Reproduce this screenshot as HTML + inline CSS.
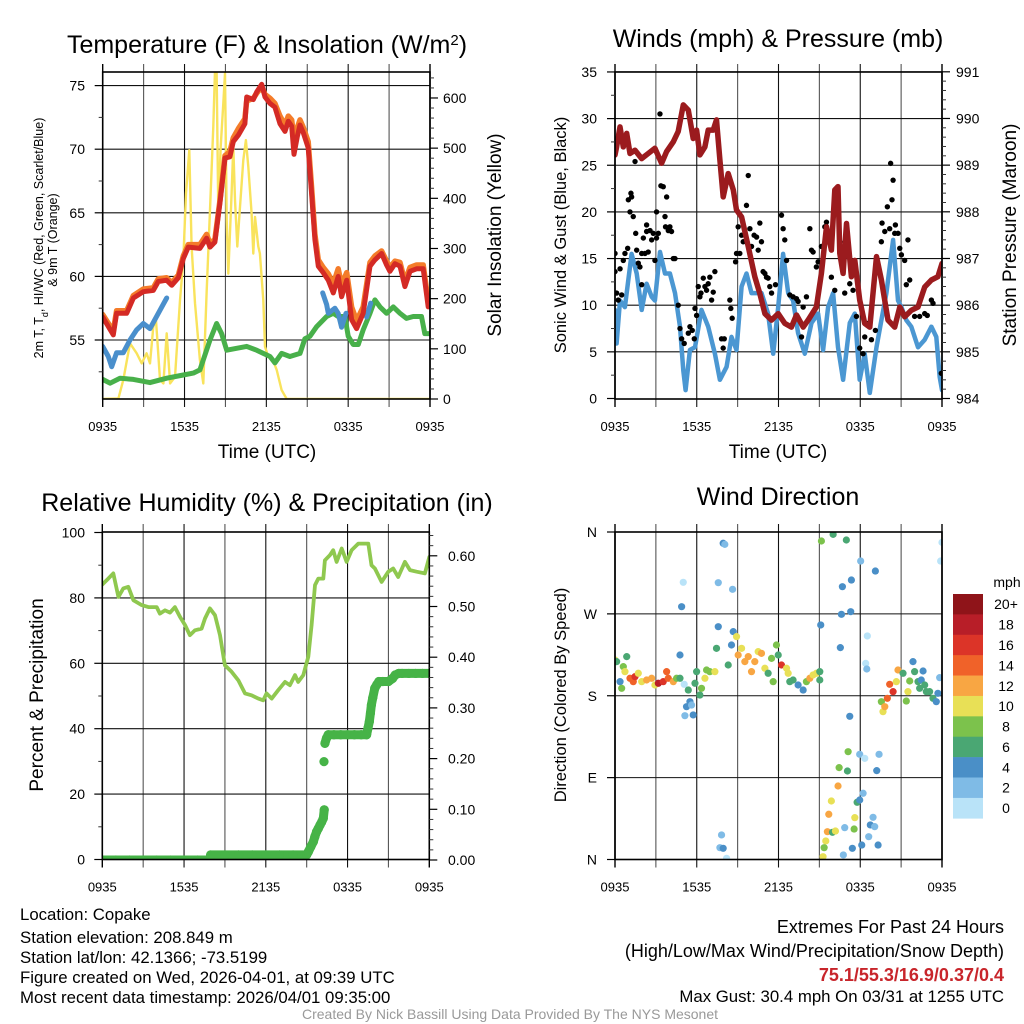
<!DOCTYPE html>
<html><head><meta charset="utf-8">
<style>
html,body{margin:0;padding:0;background:#fff;}
svg{display:block;font-family:"Liberation Sans",Arial,sans-serif;}
</style></head>
<body>
<svg id="fig" width="1024" height="1024" viewBox="0 0 1024 1024" xmlns="http://www.w3.org/2000/svg">
<defs>
<clipPath id="c1"><rect x="102.7" y="72" width="327.3" height="327"/></clipPath>
<clipPath id="c2"><rect x="615" y="72" width="327" height="327"/></clipPath>
<clipPath id="c3"><rect x="102.3" y="532" width="327" height="327.5"/></clipPath>
<clipPath id="c4"><rect x="615" y="532" width="327" height="327.5"/></clipPath>
</defs>
<text x="267" y="53" font-size="25" text-anchor="middle">Temperature (F) &amp; Insolation (W/m<tspan baseline-shift="super" font-size="15">2</tspan>)</text>
<text x="778" y="47" font-size="25" text-anchor="middle">Winds (mph) &amp; Pressure (mb)</text>
<text x="267" y="511" font-size="25" text-anchor="middle">Relative Humidity (%) &amp; Precipitation (in)</text>
<text x="778" y="505" font-size="25" text-anchor="middle">Wind Direction</text>

<text transform="translate(43,238) rotate(-90)" font-size="12.5" text-anchor="middle">2m T, T<tspan baseline-shift="sub" font-size="9">d</tspan>, HI/WC (Red, Green, Scarlet/Blue)</text>
<text transform="translate(57,240) rotate(-90)" font-size="12.5" text-anchor="middle">&amp; 9m T (Orange)</text>
<text transform="translate(501,235) rotate(-90)" font-size="19" text-anchor="middle">Solar Insolation (Yellow)</text>
<text transform="translate(566,235) rotate(-90)" font-size="16.5" text-anchor="middle">Sonic Wind &amp; Gust (Blue, Black)</text>
<text transform="translate(1016,235) rotate(-90)" font-size="19" text-anchor="middle">Station Pressure (Maroon)</text>
<text transform="translate(43,695) rotate(-90)" font-size="19" text-anchor="middle">Percent &amp; Precipitation</text>
<text transform="translate(566,695) rotate(-90)" font-size="16.5" text-anchor="middle">Direction (Colored By Speed)</text>
<text x="267" y="458" font-size="19" text-anchor="middle">Time (UTC)</text>
<text x="778" y="458" font-size="19" text-anchor="middle">Time (UTC)</text>

<g font-size="16.8">
<text x="20" y="920">Location: Copake</text>
<text x="20" y="943">Station elevation: 208.849 m</text>
<text x="20" y="963">Station lat/lon: 42.1366; -73.5199</text>
<text x="20" y="983">Figure created on Wed, 2026-04-01, at 09:39 UTC</text>
<text x="20" y="1003">Most recent data timestamp: 2026/04/01 09:35:00</text>
</g>
<g text-anchor="end">
<text x="1004" y="933" font-size="18">Extremes For Past 24 Hours</text>
<text x="1004" y="957" font-size="18">(High/Low/Max Wind/Precipitation/Snow Depth)</text>
<text x="1004" y="981" font-size="18" fill="#c8252b" font-weight="bold">75.1/55.3/16.9/0.37/0.4</text>
<text x="1004" y="1002" font-size="16.8">Max Gust: 30.4 mph On 03/31 at 1255 UTC</text>
</g>
<text x="510" y="1019" font-size="14" fill="#999" text-anchor="middle">Created By Nick Bassill Using Data Provided By The NYS Mesonet</text>
</svg>
<script>
// ---------- data ----------
const xTickLabels = ['0935','1535','2135','0335','0935'];
const xTickHours = [0,6,12,18,24];
const tempTimes = [0,0.78,1.02,1.76,2.25,2.98,3.71,4.08,4.69,5.06,5.55,5.91,6.28,7.13,7.62,7.87,8.23,8.6,8.97,9.33,9.58,9.94,10.43,10.56,11.04,11.29,11.66,11.9,12.27,12.63,13.0,13.37,13.61,13.86,14.03,14.27,14.47,14.71,15.07,15.32,15.56,15.81,16.17,16.54,16.91,17.27,17.52,17.89,18.25,18.62,19.1,19.6,19.96,20.45,20.82,21.06,21.43,21.8,22.16,22.53,23.02,23.5,23.87];
const temp2m = [56.8,55.4,57.1,57.1,58.3,58.8,58.9,59.6,59.7,59.3,59.9,61.4,62.3,62.2,63.0,62.3,62.7,65.8,69.3,69.4,70.6,71.1,72.0,74.1,73.9,74.5,75.1,74.1,73.6,73.3,72.0,71.4,72.2,71.8,69.6,71.0,71.9,71.3,70.1,66.5,62.9,60.8,60.3,59.7,58.7,60.0,58.4,59.7,56.6,55.9,57.1,60.8,61.3,61.8,60.9,60.4,61.0,60.8,59.2,60.4,60.6,60.6,57.6];
const temp9m = [57.0,55.7,57.3,57.3,58.5,59.0,59.1,59.8,59.9,59.5,60.1,61.6,62.5,62.5,63.3,62.6,62.9,66.0,69.5,69.8,70.9,71.6,72.4,73.8,74.0,74.4,74.9,74.3,74.0,73.6,72.6,71.9,72.6,72.3,70.8,71.7,72.3,71.7,70.6,67.0,63.3,61.3,60.7,60.2,59.4,60.6,59.3,60.3,57.6,56.5,57.6,61.1,61.6,62.0,61.2,60.7,61.2,61.1,59.6,60.7,60.9,60.9,58.0];
const dewTimes = [0,0.54,1.27,2.25,3.47,4.69,5.91,6.64,7.13,7.87,8.35,8.72,9.09,9.82,10.56,11.29,11.78,12.27,12.63,13.12,13.73,14.47,14.83,15.2,15.69,16.42,16.91,17.27,17.76,18.0,18.37,18.74,19.1,19.6,19.96,20.33,20.82,21.31,21.8,22.28,22.77,23.38,23.62,24];
const dewpoint = [51.9,51.6,52.0,51.9,51.65,52.0,52.25,52.4,52.65,55.0,56.3,55.5,54.2,54.35,54.5,54.2,53.95,53.7,53.2,53.95,53.7,53.95,55.1,55.3,56.05,56.85,57.1,56.85,56.85,55.3,54.65,54.65,55.8,57.1,58.15,57.6,57.1,57.6,57.1,56.7,56.85,56.85,55.5,55.5];
const hiwcTimes = [0,0.41,0.66,1.02,1.51,2.0,2.49,2.98,3.47,3.83,4.33,4.69,null,16.13,16.42,16.54,17.03,17.27,17.52,17.84,null,19.35,19.65];
const hiwc = [54.5,53.7,52.9,54.0,54.0,55.0,55.8,56.3,55.9,56.6,57.6,58.3,null,58.7,57.8,57.1,57.5,57.1,56.0,57.1,null,56.8,57.9];
const solarTimes = [0,1.15,1.51,2.0,2.49,2.86,3.22,3.47,3.71,3.91,4.2,4.45,4.69,4.94,5.3,5.67,5.91,6.11,6.35,6.52,6.77,7.13,7.38,7.62,7.87,8.11,8.23,8.35,8.48,8.65,8.84,8.97,9.09,9.21,9.45,9.58,9.7,9.87,10.07,10.31,10.5,10.68,10.92,11.04,11.17,11.41,11.53,11.78,11.9,12.14,12.39,12.76,13.12,13.49,24];
const solar = [0,1,38,111,91,71,91,71,144,157,38,31,131,31,44,197,277,410,496,304,191,78,31,211,377,543,649,656,370,503,589,649,357,250,410,503,397,304,383,476,516,463,370,290,363,304,290,197,104,84,84,58,18,0,0];

const windTimes = [0,0.12,0.37,0.73,1.22,1.59,1.96,2.32,2.69,2.93,3.3,3.67,4.03,4.4,4.77,5.01,5.18,5.5,5.87,6.35,6.84,7.33,7.7,8.19,8.55,8.92,9.29,9.65,10.02,10.75,11.24,11.61,11.98,12.34,12.71,13.07,13.44,13.93,14.42,14.91,15.27,15.64,16.01,16.37,16.74,17.23,17.6,17.96,18.33,18.7,19.19,19.55,19.92,20.41,20.77,21.02,21.38,21.75,22.24,22.73,23.22,23.58,23.83,24];
const windSpeed = [9.5,5.9,10.5,9.8,15.5,13.4,9.5,12.3,10.9,10.5,15.7,13.4,13.4,11.3,7.7,3.0,0.9,5.2,5.5,9.5,7.7,4.8,2.0,3.4,6.6,5.2,12.0,13.4,11.3,11.3,9.1,4.8,9.8,15.5,11.3,10.5,7.0,4.8,8.1,9.1,5.2,9.8,11.3,5.5,2.0,8.1,9.1,2.0,4.8,0.6,5.5,8.4,11.3,17.0,10.5,9.8,8.4,7.7,5.5,6.3,7.7,6.6,2.3,0.9];
const gustTimes = [0,0,0.12,0.24,0.37,0.49,0.61,0.73,0.93,0.98,1.1,1.17,1.22,1.34,1.47,1.52,1.59,1.71,1.83,1.96,1.96,2.08,2.2,2.32,2.32,2.44,2.57,2.69,2.81,2.93,3.05,3.05,3.18,3.3,3.37,3.54,3.67,3.71,3.79,3.91,4.03,4.15,4.28,4.4,4.64,4.77,4.89,5.08,5.38,5.5,5.67,5.82,5.87,5.99,6.11,6.23,6.31,6.48,6.6,6.72,6.84,6.96,7.09,7.21,7.33,7.82,7.94,8.02,8.43,8.5,8.6,8.85,8.92,9.04,9.16,9.29,9.41,9.65,9.78,9.9,10.02,10.21,10.39,10.51,10.63,10.75,10.87,11.0,11.12,11.24,11.36,11.49,11.78,12.22,12.34,12.46,12.59,12.83,13.07,13.32,13.44,13.69,13.81,14.05,14.3,14.42,14.54,14.78,14.91,15.15,15.4,15.52,15.64,15.76,15.88,16.13,16.5,16.62,16.86,17.23,17.47,17.72,17.96,18.21,18.33,18.57,18.82,19.11,19.55,19.6,19.8,19.99,20.16,20.23,20.33,20.41,20.53,20.58,20.77,20.9,21.02,21.26,21.38,21.5,21.63,21.99,22.36,22.73,22.92,23.22,23.34,23.95];
const gustSpeed = [15.55,13.6,11.3,10.55,13.9,11.1,14.8,15.55,16.1,21.3,20.0,22.0,21.6,19.5,25.4,17.7,15.9,14.5,14.1,15.55,12.2,17.2,15.55,18.6,17.9,15.7,18.0,17.0,17.7,14.8,17.2,20.0,17.7,30.5,22.8,22.7,19.5,18.4,21.6,18.0,18.4,17.9,15.0,15.0,10.0,7.5,6.4,5.9,7.0,7.7,7.3,6.4,9.65,8.9,12.0,10.9,11.3,12.9,12.0,11.6,12.3,13.0,10.55,11.4,13.6,6.4,5.4,6.4,10.55,9.65,8.6,14.65,15.55,18.4,15.55,17.5,16.8,20.7,23.9,18.2,16.3,17.5,17.3,15.9,18.8,16.8,13.6,13.4,13.0,12.9,12.0,11.3,12.2,19.65,18.2,17.0,14.8,11.1,10.9,10.7,10.4,6.6,9.8,10.9,18.2,15.9,15.7,14.1,14.65,16.3,18.4,18.9,17.2,17.3,13.0,11.6,16.8,14.8,11.3,12.3,11.6,8.8,5.4,4.8,6.6,8.05,6.3,7.3,16.8,18.8,17.9,20.55,18.2,25.2,21.3,23.4,17.7,18.6,17.7,16.1,15.4,14.8,12.2,17.0,12.7,8.8,8.8,9.1,8.9,10.55,10.2,2.7];
const presTimes = [0,0.12,0.37,0.61,0.86,1.1,1.47,1.96,2.44,2.93,3.42,3.79,4.28,4.64,5.01,5.38,5.74,5.99,6.23,6.6,6.84,7.21,7.45,7.7,7.94,8.31,8.68,8.92,9.29,9.78,10.26,10.63,11.0,11.49,11.98,12.46,12.95,13.32,13.81,14.17,14.78,15.15,15.52,15.88,16.13,16.37,16.5,16.74,16.99,17.35,17.6,17.96,18.33,18.7,19.19,19.55,20.04,20.53,20.9,21.26,21.75,22.24,22.73,23.22,23.7,24];
const pressure = [989.22,989.39,989.82,989.39,989.68,989.25,989.32,989.14,989.25,989.36,989.04,989.29,989.5,989.72,990.29,990.18,989.57,989.75,989.22,989.39,989.75,989.75,989.97,989.11,988.32,988.82,988.47,988.04,987.89,987.25,986.61,986.25,985.82,985.68,985.82,985.61,985.53,985.79,985.53,985.68,985.96,986.68,987.68,987.18,988.47,988.54,987.11,986.68,987.75,986.61,986.96,986.11,985.61,985.53,987.04,986.54,985.68,985.53,985.96,985.75,985.89,985.96,986.39,986.54,986.61,986.89];

const rhTimes = [0,0.44,0.81,1.18,1.54,1.91,2.28,2.89,3.38,3.99,4.23,4.6,4.97,5.33,5.7,6.07,6.43,6.8,7.29,7.54,7.9,8.27,8.64,9.0,9.49,9.98,10.47,10.96,11.45,11.81,12.06,12.43,12.92,13.41,13.77,14.14,14.38,14.75,15.12,15.36,15.61,15.85,16.22,16.34,16.71,16.95,17.2,17.57,17.93,18.3,18.79,19.27,19.52,19.76,20.01,20.5,20.99,21.35,21.72,22.21,22.58,23.07,23.68,24];
const rh = [84.1,85.9,87.5,80.3,82.9,83.4,79.3,77.8,77.2,77.2,75.2,76.2,75.5,77.2,74.2,71.7,68.6,70.1,70.6,73.7,76.8,74.7,68.6,59.4,57.4,54.8,50.8,50.2,49.2,48.7,50.8,49.2,51.8,54.3,53.3,56.4,54.3,56.4,62.0,71.7,83.9,85.9,85.9,91.5,93.1,94.6,91.0,95.1,91.0,94.6,96.6,96.6,96.6,90.0,89.0,84.9,88.0,89.0,86.4,91.0,88.5,88.0,87.5,92.5];
const precipTimes = [0,1,2,3,4,5,6,7,7.9,7.95,9,10,11,12,13,14,15.0,15.12,15.3,15.49,15.6,15.73,15.85,15.98,16.1,16.22,16.29,16.27,16.34,16.45,16.58,17,17.5,18,18.5,19,19.4,19.5,19.6,19.68,19.75,19.85,20.0,20.15,20.3,20.6,21.0,21.3,21.5,21.75,22.0,22.5,23,23.5,24];
const precip = [0,0,0,0,0,0,0,0,0,0.01,0.01,0.01,0.01,0.01,0.01,0.01,0.01,0.016,0.026,0.036,0.046,0.056,0.062,0.069,0.075,0.082,0.099,0.194,0.23,0.24,0.247,0.247,0.247,0.247,0.247,0.247,0.247,0.26,0.273,0.29,0.306,0.32,0.339,0.346,0.352,0.352,0.352,0.358,0.365,0.368,0.368,0.368,0.368,0.368,0.368];

const dirTimes = [0,0.12,0.37,0.49,0.61,0.86,0.73,1.1,1.34,1.47,1.71,1.96,2.32,2.69,2.93,3.18,3.54,3.79,3.91,4.28,4.52,4.77,5.08,4.77,4.89,5.01,5.38,5.5,5.25,5.62,5.74,5.13,5.87,5.99,6.23,6.35,6.6,6.72,6.96,7.33,7.45,7.58,7.58,7.94,8.06,8.63,8.31,8.55,8.68,8.92,9.04,9.29,9.53,9.78,10.02,10.26,10.51,10.75,11.0,11.24,11.49,11.61,11.85,11.98,12.22,12.59,12.71,12.83,13.07,13.44,13.81,14.05,14.3,14.54,14.78,15.03,15.03,7.82,7.7,7.94,8.19,
15.15,16.01,16.98,18.03,19.11,17.35,16.69,15.1,16.62,17.3,16.54,18.52,18.4,18.48,17.23,17.11,16.45,17.06,17.96,18.33,19.38,19.21,16.37,15.88,15.69,15.59,15.96,16.18,15.47,15.35,15.27,16.86,16.76,17.42,18.11,19.31,18.62,18.74,18.94,19.06,17.6,17.55,17.77,17.96,18.21,
19.55,19.67,19.8,19.99,20.16,20.41,20.65,20.77,21.14,21.38,21.5,21.63,21.87,21.99,22.24,22.36,22.48,22.61,22.73,22.85,23.09,23.34,23.58,23.7,23.83,23.9,24.0];
const dirDegrees = [219.3,217.5,195.5,188.2,212.0,223.0,206.5,199.2,195.5,201.0,204.7,195.5,197.3,199.2,191.8,193.7,195.5,206.5,199.2,195.5,199.2,199.2,192.6,224.8,277.9,304.7,186.3,173.5,168.0,169.8,158.9,158.1,193.7,206.5,180.8,188.2,199.2,208.3,206.5,206.5,232.1,255.9,304.3,347.6,346.4,297.0,213.8,235.8,250.5,245.0,224.8,232.1,217.5,223.0,206.5,217.5,228.5,226.6,210.2,204.7,221.1,195.5,235.8,224.8,213.8,210.2,204.7,195.5,197.3,191.8,186.3,195.5,199.2,202.9,204.7,206.5,197.3,27.0,13.0,12.3,1.3,
350.1,357.4,351.2,328.1,317.1,307.2,299.9,257.8,269.5,272.4,232.9,245.7,215.6,209.4,157.4,118.5,101.0,97.3,115.6,111.2,115.6,97.7,80.8,64.3,49.7,30.6,29.9,31.3,20.4,13.0,3.1,35.0,5.0,12.3,15.9,15.9,25.1,38.0,46.4,36.1,46.0,33.5,62.9,65.4,72.8,
173.5,162.5,168.0,177.2,192.6,184.5,195.5,208.3,204.7,174.2,184.5,196.2,217.5,206.5,195.5,188.2,197.3,207.2,191.8,184.5,184.5,177.2,173.5,182.7,199.9,328.1,348.6];
const dirSpeeds = [11,7,5,9,9,7,11,15,15,17,11,11,13,13,11,19,17,15,15,13,9,7,1,5,5,1,7,5,5,3,5,3,7,7,7,9,11,9,9,11,7,5,3,5,3,3,7,5,5,11,13,11,13,13,13,13,11,13,11,7,9,9,9,7,17,11,11,7,7,5,5,9,13,11,11,7,7,3,3,5,1,
9,7,7,3,5,5,5,5,5,5,5,1,1,3,5,9,9,7,3,1,3,5,13,11,13,13,7,11,11,9,11,3,3,5,5,5,3,5,3,3,11,9,7,5,3,
9,11,13,15,15,17,11,13,7,9,11,9,5,7,7,7,5,5,7,7,7,7,5,5,3,1,1];
const speedBinLabels = ['0','2','4','6','8','10','12','14','16','18','20+'];
const speedColors = ['#b9e3f8','#7fbbe6','#4a8fc7','#4aa773','#7cc24c','#e8e056','#f8a643','#f06229','#dc3428','#b81e28','#8f1419'];

// ---------- helpers ----------
const NS='http://www.w3.org/2000/svg';
const svg=document.getElementById('fig');
function mk(tag,attrs,parent){const e=document.createElementNS(NS,tag);for(const k in attrs)e.setAttribute(k,attrs[k]);(parent||svg).appendChild(e);return e;}
const P1={L:102.7,R:430,T:72,B:399};
const P2={L:615,R:942,T:72,B:399};
const P3={L:102.3,R:429.3,T:532,B:859.5};
const P4={L:615,R:942,T:532,B:859.5};
function xS(p,t){return p.L+t/24*(p.R-p.L);}
const yTemp=v=>340-(v-55)*12.72;
const ySolar=v=>399-v*0.5017;
const yWind=v=>398.5-v*9.33;
const yPres=v=>398.5-(v-984)*46.67;
const yRH=v=>859.5-v*3.27;
const yPrecip=v=>860-v*507;
const yDir=v=>859.5-v*327.5/360;

function pathD(p,ts,vs,ys){let d='',pen=false;for(let i=0;i<ts.length;i++){if(ts[i]===null||vs[i]===null){pen=false;continue;}d+=(pen?'L':'M')+xS(p,ts[i]).toFixed(1)+','+ys(vs[i]).toFixed(1);pen=true;}return d;}

function gridAndFrame(p,name,hVals,ys){
  const g=mk('g',{});
  
  
  for(let h=3;h<24;h+=3){
    const x=xS(p,h);
    const l=mk('line',{x1:x,x2:x,y1:p.T-8,y2:p.B+8,stroke:(h%6===0?'#111':'#555'),'stroke-width':1.1},g);
    
    
  }
  hVals.forEach(v=>{
    const y=ys(v);
    const l=mk('line',{x1:p.L,x2:p.R,y1:y,y2:y,stroke:'#111','stroke-width':1.1},g);
    
    
  });
}
function frame(p,name){
  const r=mk('rect',{x:p.L,y:p.T,width:p.R-p.L,height:p.B-p.T,fill:'none',stroke:'#000','stroke-width':1.6});
  
  
  [p.L,p.R].forEach(x=>{const l=mk('line',{x1:x,x2:x,y1:p.T-8,y2:p.B+8,stroke:'#000','stroke-width':1.4});
    
    });
  xTickHours.forEach((h,i)=>{
    const t=mk('text',{x:xS(p,h),y:p.B+32,'font-size':13,'text-anchor':'middle'});
    t.textContent=xTickLabels[i];
    
    
  });
}
function yAxis(p,side,majors,labels,minors,ys,name,lx){
  const g=mk('g',{});
  
  
  const x0=side==='left'?p.L:p.R, dir=side==='left'?-1:1;
  majors.forEach((v,i)=>{
    const y=ys(v);
    const l=mk('line',{x1:x0,x2:x0+dir*8,y1:y,y2:y,stroke:'#000','stroke-width':1.2},g);
    
    
    const t=mk('text',{x:lx,y:y+5,'font-size':14,'text-anchor':side==='left'?'end':'start'},g);
    t.textContent=labels[i];
    
    
  });
  minors.forEach(v=>{
    const y=ys(v);
    const l=mk('line',{x1:x0,x2:x0+dir*4,y1:y,y2:y,stroke:'#333','stroke-width':1},g);
    
    
  });
}
function range(a,b,s){const r=[];for(let v=a;v<=b+1e-9;v+=s)r.push(+v.toFixed(3));return r;}

// ---------- panel 1 ----------
gridAndFrame(P1,'temperature',[55,60,65,70,75],yTemp);
const s1=mk('g',{'clip-path':'url(#c1)'});


const solarLine=mk('path',{d:pathD(P1,solarTimes,solar,ySolar),fill:'none',stroke:'#f9e35c','stroke-width':2.4,'stroke-linejoin':'round'},s1);


const dewLine=mk('path',{d:pathD(P1,dewTimes,dewpoint,yTemp),fill:'none',stroke:'#48b04a','stroke-width':5,'stroke-linejoin':'round','stroke-linecap':'round'},s1);


const hiLine=mk('path',{d:pathD(P1,hiwcTimes,hiwc,yTemp),fill:'none',stroke:'#4a8fcc','stroke-width':5,'stroke-linejoin':'round','stroke-linecap':'round'},s1);


const t9Line=mk('path',{d:pathD(P1,tempTimes,temp9m,yTemp),fill:'none',stroke:'#f47c2a','stroke-width':5.5,'stroke-linejoin':'round','stroke-linecap':'round'},s1);


const t2Line=mk('path',{d:pathD(P1,tempTimes,temp2m,yTemp),fill:'none',stroke:'#d42a25','stroke-width':5,'stroke-linejoin':'round','stroke-linecap':'round'},s1);


frame(P1,'temperature');
yAxis(P1,'left',[55,60,65,70,75],['55','60','65','70','75'],[52.5,57.5,62.5,67.5,72.5],yTemp,'temperature-y-axis',85);
yAxis(P1,'right',range(0,600,100),['0','100','200','300','400','500','600'],range(20,640,20).filter(v=>v%100!==0),ySolar,'insolation-y-axis',443);

// ---------- panel 2 ----------
gridAndFrame(P2,'winds',[5,10,15,20,25,30,35],yWind);
const s2=mk('g',{'clip-path':'url(#c2)'});


const windLine=mk('path',{d:pathD(P2,windTimes,windSpeed,yWind),fill:'none',stroke:'#4b97d2','stroke-width':4.5,'stroke-linejoin':'round','stroke-linecap':'round'},s2);


gustTimes.forEach((t,i)=>{
  const c=mk('circle',{cx:xS(P2,t),cy:yWind(gustSpeed[i]),r:2.7,fill:'#000'},s2);
  
  
});
const presLine=mk('path',{d:pathD(P2,presTimes,pressure,yPres),fill:'none',stroke:'#9b1b1e','stroke-width':5.5,'stroke-linejoin':'round','stroke-linecap':'round'},s2);


frame(P2,'winds');
yAxis(P2,'left',range(0,35,5),['0','5','10','15','20','25','30','35'],range(2.5,32.5,5),yWind,'wind-y-axis',597);
yAxis(P2,'right',range(984,991,1),['984','985','986','987','988','989','990','991'],range(984.2,990.8,0.2).filter(v=>Math.abs(v-Math.round(v))>0.05),yPres,'pressure-y-axis',956);

// ---------- panel 3 ----------
gridAndFrame(P3,'humidity',[20,40,60,80],yRH);
const s3=mk('g',{'clip-path':'url(#c3)'});


const rhLine=mk('path',{d:pathD(P3,rhTimes,rh,yRH),fill:'none',stroke:'#8fc84f','stroke-width':3.8,'stroke-linejoin':'round','stroke-linecap':'round'},s3);


for(let i=1;i<precipTimes.length;i++){
  if(Math.abs(precip[i]-precip[i-1])<0.03 && precipTimes[i]>=precipTimes[i-1]){
    const l=mk('line',{x1:xS(P3,precipTimes[i-1]),y1:yPrecip(precip[i-1]),x2:xS(P3,precipTimes[i]),y2:yPrecip(precip[i]),stroke:'#46b347','stroke-width':9,'stroke-linecap':'round'},s3);
    
    
  }
}
precipTimes.forEach((t,i)=>{
  const c=mk('circle',{cx:xS(P3,t),cy:yPrecip(precip[i]),r:4.6,fill:'#46b347'},s3);
  
  
});
frame(P3,'humidity');
yAxis(P3,'left',range(0,100,20),['0','20','40','60','80','100'],[10,30,50,70,90],yRH,'percent-y-axis',85);
yAxis(P3,'right',range(0,0.6,0.1),['0.00','0.10','0.20','0.30','0.40','0.50','0.60'],range(0.02,0.64,0.02).filter(v=>Math.abs(v*10-Math.round(v*10))>0.05),yPrecip,'precipitation-y-axis',448);

// ---------- panel 4 ----------
gridAndFrame(P4,'direction',[90,180,270],yDir);
const s4=mk('g',{'clip-path':'url(#c4)'});


dirTimes.forEach((t,i)=>{
  const bin=Math.min(10,Math.floor(dirSpeeds[i]/2));
  const c=mk('circle',{cx:xS(P4,t),cy:yDir(dirDegrees[i]),r:3.6,fill:speedColors[bin]},s4);
  
  
});
frame(P4,'direction');
yAxis(P4,'left',[0,90,180,270,360],['N','E','S','W','N'],[],yDir,'direction-y-axis',597);

// colorbar
const cb=mk('g',{});


const cbt=mk('text',{x:1007,y:587,'font-size':14,'text-anchor':'middle'},cb);
cbt.textContent='mph';


const boxH=224.3/speedColors.length;
for(let k=0;k<speedColors.length;k++){
  const idx=speedColors.length-1-k;
  const y=594+k*boxH;
  const r=mk('rect',{x:953,y:y,width:30,height:boxH+0.3,fill:speedColors[idx]},cb);
  
  
  const t=mk('text',{x:1006,y:y+boxH/2+5,'font-size':14,'text-anchor':'middle'},cb);
  t.textContent=speedBinLabels[idx];
  
  
}
</script>
</body></html>
